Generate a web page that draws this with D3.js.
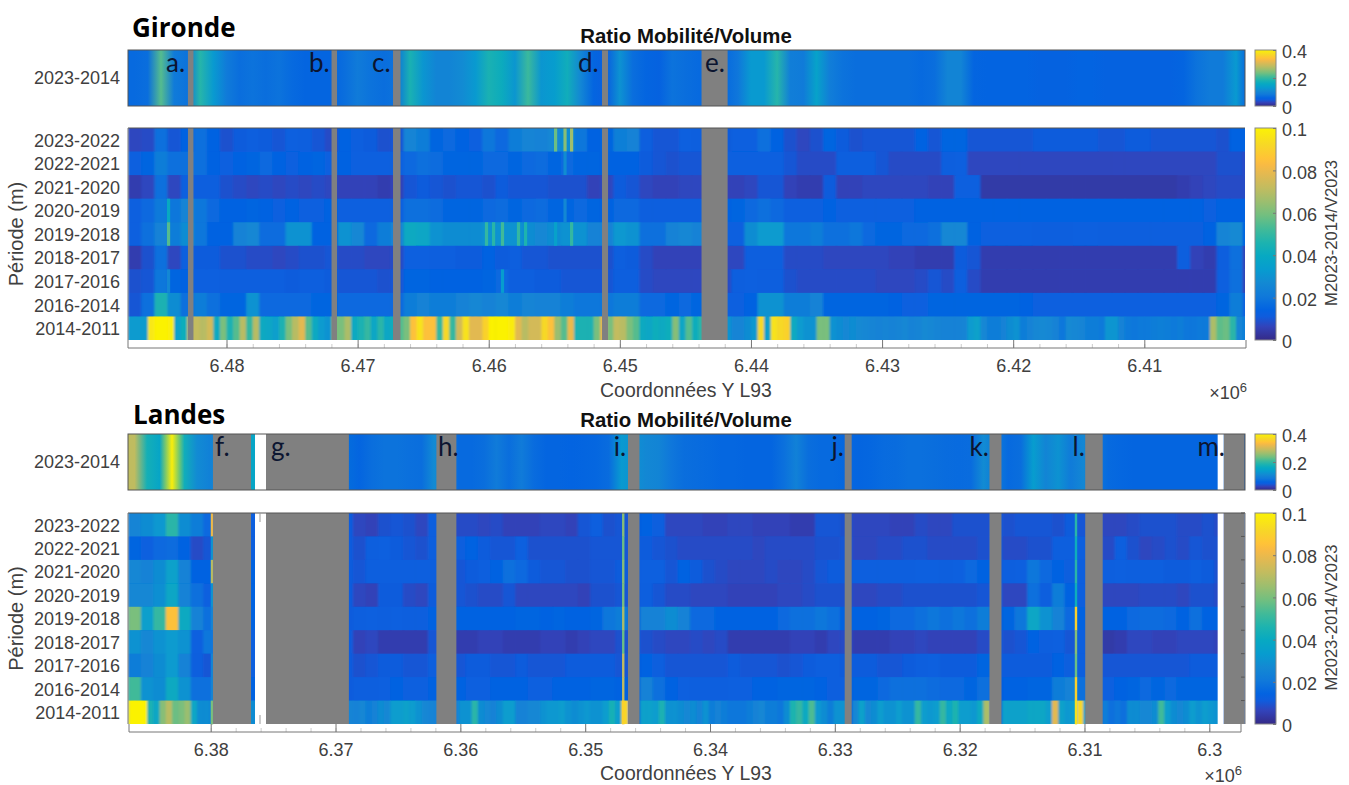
<!DOCTYPE html>
<html>
<head>
<meta charset="utf-8">
<script src="https://cdn.jsdelivr.net/npm/d3@7"></script>
<style>
body { margin: 0; background: #fff; }
text { font-family: "Liberation Sans", sans-serif; fill: #404040; }
.title { font-weight: bold; font-size: 20.4px; fill: #111; }
.zone { font-family: "Open Sans", sans-serif; font-weight: bold; font-size: 26px; fill: #000; }
.letter { font-family: Lato, sans-serif; font-size: 26px; fill: #0c1530; }
.axis path, .axis line { stroke: #777; }
.axis text { font-family: "Liberation Sans", sans-serif; fill: #404040; font-size: 18px; }
.minor line { stroke: #ccc; }
.minor path { display: none; }
</style>
</head>
<body>
<svg id="fig" width="1349" height="785"></svg>
<script>
var _ = null;

var periods = ["2023-2022","2022-2021","2021-2020","2020-2019","2019-2018","2018-2017","2017-2016","2016-2014","2014-2011"];
var stripPeriod = ["2023-2014"];

// values in thousandths, one value per 1 km (or 500 m for the 2014-2011 rows), north to south
var girondeStrip = [
65,70,220,85,75,190,130,85,70,75,
70,75,65,60,60,60,70,85,75,70,
75,180,125,100,100,110,130,180,165,125,
205,125,135,170,105,60,50,120,70,60,
55,75,70,65,65,65,80,130,130,190,
90,85,145,90,75,70,70,70,70,70,
65,70,100,100,60,58,58,58,58,55,
55,55,58,58,55,55,55,55,55,55,
60,75,85,85,130,70];

var girondeRows = [
[7,8,18,10,14,18,14,9,11,12,
11,10,13,12,10,8,14,12,11,9,
10,25,22,15,16,14,13,20,16,22,
25,24,26,28,20,14,15,23,24,12,
10,10,13,12,12,11,13,13,18,14,
9,7,9,15,11,9,10,10,10,10,
14,10,15,15,10,10,10,10,10,11,
11,11,11,11,10,10,11,11,10,10,
10,10,10,9,14,14],
[13,15,22,18,18,18,14,13,14,15,
16,14,13,14,15,13,14,13,13,13,
13,16,18,17,15,15,15,16,16,15,
16,17,15,16,15,15,14,14,14,11,
10,9,10,10,10,13,13,13,13,13,
10,8,8,8,12,12,12,10,8,8,
8,8,12,13,7,7,7,7,7,7,
7,7,7,7,7,7,7,7,7,7,
7,7,7,9,9,8],
[5,7,18,7,13,12,12,9,8,7,
8,7,8,7,8,7,6,6,6,5,
6,10,11,10,9,10,10,9,11,10,
10,10,9,9,9,6,7,11,10,7,
6,6,7,7,7,6,6,7,10,10,
6,5,5,11,6,6,7,7,7,7,
7,6,6,13,13,4,4,4,4,4,
4,4,4,4,4,4,4,4,4,4,
5,6,7,8,8,8],
[13,16,21,20,25,20,16,14,14,15,
14,13,14,13,13,14,13,13,13,13,
13,18,18,17,15,15,15,16,17,15,
16,17,15,15,16,15,14,16,16,12,
12,12,12,12,12,14,15,16,18,16,
13,13,13,14,13,13,13,13,13,13,
14,14,14,14,14,14,14,14,14,14,
14,14,14,14,14,14,14,14,14,14,
14,14,13,14,14,14],
[13,18,24,22,28,20,14,14,24,26,
17,17,30,30,14,14,30,26,16,22,
24,40,38,30,28,28,28,30,30,30,
28,26,28,30,30,24,24,32,30,18,
18,24,26,24,24,13,13,28,33,33,
20,20,22,18,18,20,16,15,15,16,
16,18,26,26,14,13,13,13,13,12,
12,12,13,13,12,12,12,12,12,12,
12,12,14,25,27,14],
[5,9,18,7,13,11,11,9,9,8,
8,7,8,9,9,10,8,8,7,7,
8,13,13,12,12,11,11,14,11,12,
10,10,9,9,9,9,9,12,11,8,
6,6,6,6,6,7,7,12,12,12,
8,8,8,7,7,7,7,7,6,6,
5,5,5,11,10,5,5,5,5,5,
5,5,5,5,5,5,5,5,5,5,
12,6,5,12,18,6],
[9,10,20,15,14,13,13,12,12,12,
12,12,11,12,12,11,10,10,10,9,
10,15,15,14,14,14,14,15,16,12,
12,11,11,10,10,10,10,12,12,8,
7,7,7,7,7,8,12,13,12,12,
9,8,8,8,8,8,8,7,7,7,
8,10,8,12,8,5,5,5,5,5,
5,5,5,5,5,5,5,5,5,5,
5,5,5,13,18,6],
[10,18,45,28,18,22,18,15,15,30,
16,16,16,16,15,15,16,16,16,16,
16,22,24,22,22,24,26,24,26,22,
25,24,24,22,20,20,20,22,22,16,
16,15,16,15,15,13,13,14,30,30,
22,22,24,15,15,15,15,15,14,13,
13,15,15,15,15,15,15,15,14,13,
13,13,13,13,13,13,13,13,13,13,
13,13,13,15,22,13],
[33,33,33,97,100,100,99,36,42,72,
72,70,75,40,60,45,55,70,50,70,
40,38,35,45,60,70,78,55,40,33,
30,60,60,68,40,45,50,38,48,38,
42,55,60,85,95,85,85,50,92,50,
75,95,78,78,90,100,100,100,98,78,
70,75,75,92,85,65,55,80,45,45,
45,60,80,60,72,70,60,55,40,38,
42,40,42,62,38,55,42,48,40,40,
30,30,25,25,28,32,92,35,95,92,
90,40,33,30,30,60,60,30,28,26,
28,27,26,25,24,25,24,25,26,24,
25,27,26,25,24,24,24,25,33,36,
26,22,22,24,28,30,22,24,26,27,
26,24,20,27,26,25,22,22,21,31,
31,24,21,20,21,21,22,23,22,21,
22,20,20,21,21,68,56,58,48,25,
22,22]
];

// thin stripes narrower than one transect bin in Gironde: period index, Y, value
var girondeThinRow = [0,0,0,1,3,3,4,4,4,4,4,4,4,4,6,6];
var girondeThinY = [6.4549,6.45418,6.45368,6.45418,6.48442,6.45418,6.48442,6.46017,6.45963,6.45895,6.45773,6.45719,6.4549,6.45368,6.48442,6.45895];
var girondeThinValue = [58,62,66,28,40,26,55,50,48,52,50,46,36,50,26,34];

var landesStrip = [
285,175,150,395,170,110,95,_,_,150,
150,_,_,_,_,_,_,_,60,70,
75,75,72,70,110,_,65,65,70,85,
70,85,68,60,60,58,60,62,68,130,
_,105,100,80,70,68,65,62,62,60,
60,60,72,95,70,65,65,62,60,62,
66,68,72,72,70,68,66,68,110,_,
65,70,135,100,120,85,105,_,65,62,
60,60,60,60,60,60,60,60,_,_];

var landesRows = [
[25,28,32,48,28,22,16,_,_,12,
12,_,_,_,_,_,_,_,7,6,
9,10,9,7,12,_,8,8,7,8,
6,6,6,7,7,6,10,12,9,10,
_,14,12,7,7,7,6,6,7,7,
6,6,6,5,5,10,10,9,7,7,
7,6,6,8,7,7,9,9,9,_,
9,10,10,10,9,11,10,_,7,7,
8,9,9,9,8,8,9,8,_,_],
[15,13,16,17,14,8,10,_,_,12,
12,_,_,_,_,_,_,_,9,12,
13,11,10,9,12,_,12,14,11,10,
10,13,9,9,9,9,9,10,10,10,
_,11,10,9,8,8,8,8,8,8,
7,8,8,8,8,9,9,10,7,7,
8,8,9,9,8,8,8,8,9,_,
8,8,9,9,12,12,12,_,8,12,
9,7,8,9,8,10,9,9,_,_],
[26,24,28,36,24,14,14,_,_,14,
14,_,_,_,_,_,_,_,10,12,
12,12,12,12,12,_,10,11,12,14,
18,16,11,10,10,9,9,10,10,11,
_,13,13,10,14,11,9,8,7,7,
7,8,7,7,8,10,11,11,12,12,
12,12,12,13,13,12,13,16,14,_,
12,13,20,16,14,12,12,_,12,13,
12,12,12,11,11,12,11,9,_,_],
[26,26,29,38,24,18,13,_,_,14,
14,_,_,_,_,_,_,_,7,6,
11,11,8,7,11,_,10,9,8,8,
10,7,7,7,7,7,6,9,9,10,
_,12,10,8,8,7,7,7,6,6,
6,6,7,7,8,9,9,9,7,7,
8,8,9,9,9,9,9,9,10,_,
7,7,18,12,22,14,12,_,7,7,
7,8,8,8,7,9,9,8,_,_],
[60,35,50,85,40,24,18,_,_,14,
14,_,_,_,_,_,_,_,12,13,
12,13,12,12,14,_,14,14,14,14,
14,15,15,14,15,14,14,15,20,22,
_,24,24,28,24,16,16,14,14,14,
14,14,16,18,18,20,18,14,14,14,
15,16,16,18,20,18,20,18,22,_,
15,20,38,30,24,16,14,_,14,14,
16,17,17,16,14,18,14,14,_,_],
[30,26,30,33,30,13,20,_,_,13,
13,_,_,_,_,_,_,_,6,7,
5,5,5,5,10,_,5,5,6,6,
5,5,5,6,6,5,6,7,7,9,
_,9,8,7,7,8,7,8,5,5,
5,5,5,6,6,5,7,8,5,5,
5,6,6,7,6,6,6,6,8,_,
9,10,14,12,13,10,12,_,4,5,
7,7,6,6,7,7,7,6,_,_],
[22,24,28,33,24,12,10,_,_,13,
13,_,_,_,_,_,_,_,9,10,
11,11,10,10,12,_,10,11,11,10,
10,11,10,10,10,11,11,11,11,10,
_,14,12,10,10,10,10,10,11,10,
10,10,9,10,11,12,12,11,11,11,
10,10,11,12,13,11,11,11,15,_,
11,11,11,11,14,12,12,_,10,10,
10,10,10,10,10,11,11,11,_,_],
[52,30,28,40,30,18,18,_,_,14,
14,_,_,_,_,_,_,_,12,12,
13,14,13,13,14,_,14,13,13,14,
14,14,13,13,14,14,14,15,15,14,
_,24,18,14,13,12,12,12,13,13,
14,14,15,15,15,14,12,13,15,15,
16,18,18,18,17,16,16,15,18,_,
14,14,15,15,22,24,18,_,13,14,
15,16,15,16,15,15,15,15,_,_],
[100,100,100,45,38,62,70,58,60,65,
38,28,28,25,_,_,_,_,_,28,
28,28,_,_,_,_,_,_,_,_,
_,_,_,_,_,25,24,26,22,24,
28,26,34,34,36,34,30,26,25,24,
_,_,24,30,30,48,28,26,24,28,
34,34,24,24,26,26,30,32,32,34,
30,28,30,32,30,30,34,44,34,92,
_,_,36,36,34,45,30,30,28,26,
28,24,30,22,24,22,20,20,20,22,
24,26,22,22,20,28,46,50,40,54,
32,28,22,30,30,_,26,36,26,28,
34,30,30,34,30,30,50,34,32,34,
50,38,46,34,34,32,40,68,_,_,
36,36,36,36,38,38,38,34,78,36,
32,34,92,34,_,_,22,18,20,18,
28,28,26,26,28,52,34,28,26,28,
34,30,34,32,30,_,_,_,_,_]
];

// very thin bright transects in Landes, one value per period at each Y
var landesThinY = [6.3799, 6.34695, 6.31068];
var landesThinValues = [
[80,30,70,30,25,20,25,25,60],
[62,58,62,60,68,58,72,72,90],
[48,42,48,42,90,62,58,90,95]
];

var girondeGaps = [[6.48294,6.48252],[6.47199,6.47157],[6.4673,6.46673],[6.45136,6.4509],[6.44377,6.44178]];
var landesGaps = [[6.37982,6.37677],[6.37557,6.36893],[6.36192,6.36032],[6.34657,6.34565],[6.32921,6.32865],[6.31761,6.31665],[6.30994,6.30854],[6.29885,6.29718]];
var landesBlank = [[6.37645,6.37557],[6.29933,6.29885]];

var girondeLetters = ["a.","b.","c.","d.","e."];
var girondeLetterY = [6.48461,6.47371,6.4689,6.45319,6.4435];
var landesLetters = ["f.","g.","h.","i.","j.","k.","l.","m."];
var landesLetterY = [6.37966,6.37517,6.3618,6.34771,6.33026,6.31921,6.31095,6.30095];

var girondeTicks = [6.48,6.47,6.46,6.45,6.44,6.43,6.42,6.41];
var landesTicks = [6.38,6.37,6.36,6.35,6.34,6.33,6.32,6.31,6.30];
var stripTicks = [0,0.2,0.4];
var heatTicks = [0,0.02,0.04,0.06,0.08,0.1];

// parula
var parulaPos = [0,.063,.111,.143,.206,.27,.333,.397,.46,.524,.587,.651,.714,.778,.825,.857,.921,1];
var parulaCol = ["#352a87","#3243ba","#0f5cdd","#0363e1","#1079da","#1389d3","#079ccf","#07a9c2","#1db3af","#42ba98","#71bf80","#9bbe6f","#c0bc60","#e1b952","#f8ba44","#ffc337","#f7d826","#fbf205"];
var parula = d3.scaleLinear().domain(parulaPos).range(parulaCol).clamp(true);

var svg = d3.select("#fig");
var defs = svg.append("defs");
defs.append("filter").attr("id","soft").attr("x","0").attr("y","0").attr("width","1").attr("height","1")
    .append("feGaussianBlur").attr("stdDeviation","1 0.4");

var rampGrad = defs.append("linearGradient").attr("id","ramp").attr("x1",0).attr("x2",0).attr("y1",1).attr("y2",0);
parulaPos.forEach(function(p,i){
    rampGrad.append("stop").attr("offset",p).attr("stop-color",parulaCol[i]);
});

/**
 * Draws one zone: strip on top, heatmap below, axis, colourbars and labels.
 */
function drawZone(zone){
    var g = svg.append("g");
    var x = d3.scaleLinear().domain(zone.domain).range(zone.range);
    var left = zone.plotLeft, right = zone.plotRight, w = right - left;
    var heatH = zone.heatBottom - zone.heatTop;
    var stripH = zone.stripBottom - zone.stripTop;
    var y = d3.scaleBand().domain(periods).range([zone.heatTop, zone.heatBottom]);
    var startY = zone.startY;

    g.append("text").attr("class","zone").attr("x",zone.nameX).attr("y",zone.nameBase).text(zone.name);
    g.append("text").attr("class","title").attr("x",686).attr("y",zone.stripTop-7.5).attr("text-anchor","middle").text("Ratio Mobilité/Volume");

    // strip as a gradient through the transect values
    var id = "strip" + zone.name;
    var grad = defs.append("linearGradient").attr("id",id).attr("gradientUnits","userSpaceOnUse")
        .attr("x1",left).attr("x2",right).attr("y1",0).attr("y2",0);
    zone.strip.forEach(function(v,i){
        if(v === null) return;
        grad.append("stop")
            .attr("offset",Math.min(1,Math.max(0,(x(startY-(i+0.5)*0.001)-left)/w)))
            .attr("stop-color",parula(v/400));
    });
    g.append("rect").attr("x",left).attr("y",zone.stripTop).attr("width",w).attr("height",stripH).attr("fill","url(#"+id+")");

    // heatmap cells
    var clipId = "clip" + zone.name;
    defs.append("clipPath").attr("id",clipId).append("rect").attr("x",left).attr("y",zone.heatTop).attr("width",w).attr("height",heatH);
    var heat = g.append("g").attr("clip-path","url(#"+clipId+")").append("g").attr("filter","url(#soft)");
    heat.append("rect").attr("x",left).attr("y",zone.heatTop).attr("width",w).attr("height",heatH).attr("fill","#0f5cdd");
    periods.forEach(function(p,r){
        var row = zone.rows[r];
        var step = row.length > 120 ? 0.0005 : 0.001;
        var cells = row.map(function(v,i){ return {v:v, i:i}; }).filter(function(d){ return d.v !== null; });
        heat.append("g").selectAll("rect").data(cells).enter().append("rect")
            .attr("x",function(d){ return x(startY-d.i*step); })
            .attr("y",y(p))
            .attr("width",function(d){ return x(startY-(d.i+1)*step)-x(startY-d.i*step)+0.6; })
            .attr("height",y.bandwidth()+0.4)
            .attr("fill",function(d){ return parula(d.v/100); });
    });
    if(zone.streakRow){
        g.append("g").selectAll("rect").data(zone.streakRow).enter().append("rect")
            .attr("x",function(d,i){ return x(zone.streakY[i])-1.6; })
            .attr("y",function(d){ return y(periods[d]); })
            .attr("width",3.2)
            .attr("height",y.bandwidth())
            .attr("fill",function(d,i){ return parula(zone.streakValue[i]/100); });
    }
    if(zone.thinY){
        zone.thinY.forEach(function(t,k){
            g.append("g").selectAll("rect").data(zone.thinValues[k]).enter().append("rect")
                .attr("x",x(t)-1.2)
                .attr("y",function(d,r){ return y(periods[r]); })
                .attr("width",2.4)
                .attr("height",y.bandwidth()+0.4)
                .attr("fill",function(d){ return parula(d/100); });
        });
    }

    // no data bands
    var bands = [[zone.stripTop,stripH],[zone.heatTop,heatH]];
    bands.forEach(function(b){
        g.append("g").selectAll("rect").data(zone.gaps).enter().append("rect")
            .attr("x",function(d){ return x(d[0]); })
            .attr("y",b[0]).attr("height",b[1])
            .attr("width",function(d){ return x(d[1])-x(d[0]); })
            .attr("fill","#808080");
        g.append("g").selectAll("rect").data(zone.blank).enter().append("rect")
            .attr("x",function(d){ return x(d[0]); })
            .attr("y",b[0]).attr("height",b[1])
            .attr("width",function(d){ return x(d[1])-x(d[0]); })
            .attr("fill","#fff");
    });

    // panel frames
    g.append("rect").attr("x",left).attr("y",zone.stripTop).attr("width",w).attr("height",stripH).attr("fill","none").attr("stroke","#555").attr("stroke-width",1);
    g.append("line").attr("x1",left).attr("x2",right).attr("y1",zone.heatTop).attr("y2",zone.heatTop).attr("stroke","#555");
    g.append("line").attr("x1",left).attr("x2",left).attr("y1",zone.heatTop).attr("y2",zone.heatBottom).attr("stroke","#777");

    // letters
    g.append("g").selectAll("text").data(zone.letters).enter().append("text")
        .attr("class","letter")
        .attr("x",function(d,i){ return x(zone.letterY[i]); })
        .attr("y",zone.stripTop+22)
        .text(function(d){ return d; });

    // x axis
    var axisY = zone.heatBottom + 8;
    var a = [zone.axisLeft, zone.axisRight];
    var minorVals = d3.range(Math.ceil(zone.domain[1]*500), Math.floor(zone.domain[0]*500)+1).map(function(d){ return d/500; });
    g.append("g").attr("class","axis minor").attr("transform","translate(0,"+axisY+")")
        .call(d3.axisBottom(x).tickValues(minorVals).tickSize(-4).tickFormat(""));
    var xAxis = d3.axisBottom(x).tickValues(zone.ticks).tickSize(-8).tickPadding(11)
        .tickFormat(function(d){ return d3.format(".3~f")(d); });
    var ax = g.append("g").attr("class","axis").attr("transform","translate(0,"+axisY+")").call(xAxis);
    ax.select(".domain").remove();
    g.append("path").attr("d","M"+a[0]+","+zone.heatBottom+"V"+axisY+"H"+a[1]+"V"+zone.heatBottom).attr("fill","none").attr("stroke","#777").attr("stroke-width",1);

    g.append("text").attr("x",686).attr("y",zone.xlabelBase).attr("text-anchor","middle").style("font-size","19.4px").text("Coordonnées Y L93");
    var mult = g.append("text").attr("x",zone.multX).attr("y",zone.multBase).attr("text-anchor","end").style("font-size","18px");
    mult.append("tspan").text("×10");
    mult.append("tspan").attr("dy",-7).style("font-size","13px").text("6");

    // row labels
    var yAxis = d3.axisLeft(y).tickSize(0).tickPadding(8);
    var yg = g.append("g").attr("class","axis").attr("transform","translate("+left+",0)").call(yAxis);
    yg.select(".domain").remove();
    yg.selectAll("text").attr("dy","0.38em");
    var s = d3.scaleBand().domain(stripPeriod).range([zone.stripTop, zone.stripBottom]);
    var sg = g.append("g").attr("class","axis").attr("transform","translate("+left+",0)").call(d3.axisLeft(s).tickSize(0).tickPadding(8));
    sg.select(".domain").remove();
    g.append("text").attr("transform","translate(23,"+(zone.heatTop+heatH/2)+") rotate(-90)").attr("text-anchor","middle").style("font-size","20px").text("Période (m)");

    // colourbars
    var cbX = 1255, cbW = 21;
    [[zone.stripTop,zone.stripBottom,0.4,stripTicks],
     [zone.heatTop,zone.heatBottom,0.1,heatTicks]].forEach(function(c){
        var cy = d3.scaleLinear().domain([0,c[2]]).range([c[1],c[0]]);
        g.append("rect").attr("x",cbX).attr("y",c[0]).attr("width",cbW).attr("height",c[1]-c[0]).attr("fill","url(#ramp)").attr("stroke","#888");
        var cg = g.append("g").attr("class","axis").attr("transform","translate("+(cbX+cbW)+",0)")
            .call(d3.axisRight(cy).tickValues(c[3]).tickSize(-3).tickPadding(6).tickFormat(d3.format("~g")));
        cg.select(".domain").remove();
        cg.selectAll("text").attr("dy","0.43em");
    });
    g.append("text").attr("transform","translate(1337,"+(zone.heatTop+heatH/2-1)+") rotate(-90)").attr("text-anchor","middle").style("font-size","16.6px").text("M2023-2014/V2023");

    if(zone.rightTicks){
        g.append("g").selectAll("line").data(periods).enter().append("line")
            .attr("x1",right-4).attr("x2",right)
            .attr("y1",function(d){ return y(d); }).attr("y2",function(d){ return y(d); })
            .attr("stroke","#555");
        g.append("line").attr("x1",right).attr("x2",right).attr("y1",zone.heatTop).attr("y2",zone.heatBottom).attr("stroke","#777");
        // short ticks showing through the white band at 6.376
        [[zone.heatTop,zone.heatTop+9],[zone.heatBottom-9,zone.heatBottom]].forEach(function(t){
            g.append("line").attr("x1",x(6.37605)).attr("x2",x(6.37605)).attr("y1",t[0]).attr("y2",t[1]).attr("stroke","#999");
        });
    }
}

drawZone({
    name:"Gironde", nameX:132, nameBase:37,
    domain:[6.48,6.41], range:[226.5,1144.3], startY:6.4875,
    plotLeft:128, plotRight:1245, axisLeft:128, axisRight:1246,
    stripTop:50, stripBottom:106, heatTop:128, heatBottom:340,
    strip:girondeStrip, rows:girondeRows, gaps:girondeGaps, blank:[],
    streakRow:girondeThinRow, streakY:girondeThinY, streakValue:girondeThinValue,
    letters:girondeLetters, letterY:girondeLetterY, ticks:girondeTicks,
    xlabelBase:397, multX:1247, multBase:399
});

drawZone({
    name:"Landes", nameX:133, nameBase:424,
    domain:[6.38,6.30], range:[210.7,1209.3], startY:6.3866,
    plotLeft:128, plotRight:1245, axisLeft:129, axisRight:1241,
    stripTop:434, stripBottom:490, heatTop:513, heatBottom:724,
    strip:landesStrip, rows:landesRows, gaps:landesGaps, blank:landesBlank,
    thinY:landesThinY, thinValues:landesThinValues, rightTicks:true,
    letters:landesLetters, letterY:landesLetterY, ticks:landesTicks,
    xlabelBase:780, multX:1242, multBase:782
});
</script>
</body>
</html>
